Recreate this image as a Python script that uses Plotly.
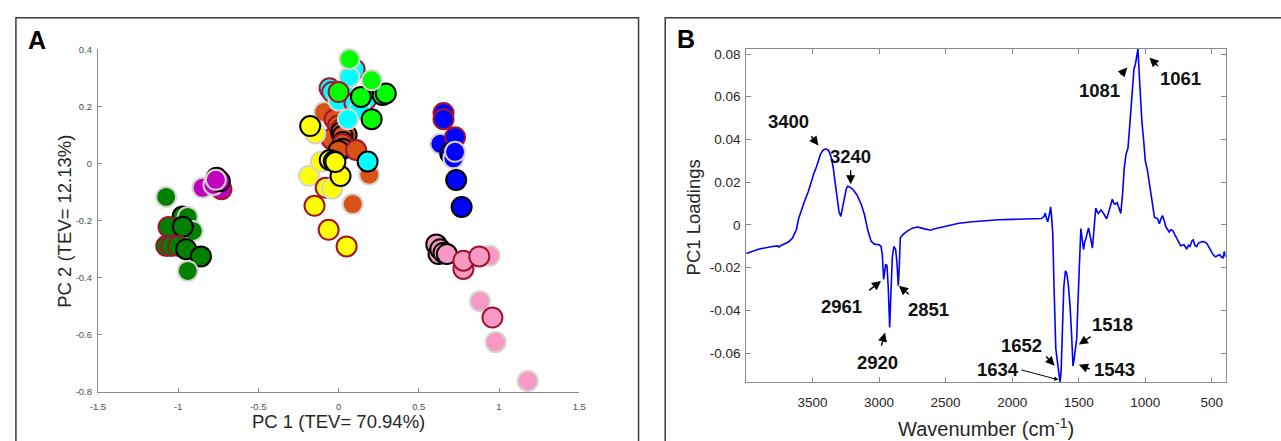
import plotly.graph_objects as go

# ---------------- Panel A data: PCA scores (PC1, PC2) ----------------
# edge codes: k = black, r = crimson, g = light gray
dkgreen_x = [-1.075, -0.972, -0.94, -0.909, -1.06, -0.971, -1.074, -1.043, -1.0, -0.95, -0.858, -0.94]
dkgreen_y = [-0.117, -0.185, -0.187, -0.236, -0.222, -0.221, -0.289, -0.289, -0.289, -0.30, -0.325, -0.376]
dkgreen_e = ['g', 'k', 'g', 'g', 'r', 'k', 'r', 'r', 'r', 'k', 'k', 'g']

magenta_x = [-0.848, -0.73, -0.78, -0.76, -0.74, -0.765]
magenta_y = [-0.085, -0.09, -0.075, -0.05, -0.062, -0.057]
magenta_e = ['g', 'r', 'g', 'k', 'k', 'g']

orange_x = [-0.09, -0.025, -0.004, 0.013, -0.045, 0.016, 0.05, 0.025, 0.027, 0.025, 0.027, 0.0, 0.109, 0.191, 0.088]
orange_y = [0.18, 0.154, 0.132, 0.119, 0.086, 0.109, 0.10, 0.097, 0.075, 0.068, 0.052, 0.045, 0.047, -0.039, -0.142]
orange_e = ['g', 'r', 'r', 'r', 'r', 'k', 'k', 'k', 'k', 'r', 'k', 'k', 'r', 'g', 'g']

yellow_x = [-0.145, -0.177, -0.185, -0.11, -0.15, -0.062, 0.05, -0.08, -0.04, 0.012, -0.055, -0.03, -0.02]
yellow_y = [0.105, 0.131, -0.043, 0.006, -0.148, -0.232, -0.29, -0.085, -0.088, -0.044, 0.012, 0.008, 0.005]
yellow_e = ['g', 'k', 'g', 'g', 'r', 'r', 'r', 'r', 'g', 'k', 'k', 'k', 'k']

cyan_x = [0.10, -0.056, -0.04, 0.0, 0.027, 0.068, 0.099, 0.171, 0.13, 0.058, 0.181]
cyan_y = [0.33, 0.263, 0.25, 0.22, 0.257, 0.303, 0.212, 0.223, 0.19, 0.155, 0.007]
cyan_e = ['r', 'r', 'r', 'g', 'g', 'g', 'r', 'r', 'g', 'g', 'k']

lime_x = [0.0, 0.139, 0.274, 0.294, 0.206, 0.206, 0.068]
lime_y = [0.25, 0.233, 0.24, 0.245, 0.155, 0.291, 0.365]
lime_e = ['r', 'k', 'k', 'k', 'k', 'g', 'g']

blue_x = [0.654, 0.654, 0.634, 0.726, 0.696, 0.716, 0.726, 0.733, 0.767]
blue_y = [0.177, 0.155, 0.069, 0.092, 0.035, 0.018, 0.041, -0.058, -0.152]
blue_e = ['r', 'r', 'g', 'r', 'k', 'g', 'g', 'k', 'k']

pink_x = [0.609, 0.623, 0.634, 0.654, 0.675, 0.778, 0.778, 0.942, 0.877, 0.881, 0.959, 0.979, 1.179]
pink_y = [-0.283, -0.317, -0.30, -0.312, -0.317, -0.369, -0.34, -0.323, -0.325, -0.482, -0.539, -0.625, -0.761]
pink_e = ['k', 'k', 'k', 'k', 'k', 'r', 'r', 'g', 'r', 'g', 'r', 'g', 'g']

# ---------------- Panel B data: PC1 loadings ----------------
wavenumber = [3997, 3900, 3800, 3760, 3752, 3740, 3680, 3650, 3620, 3604, 3560, 3530, 3490, 3468, 3440,
              3420, 3400, 3380, 3360, 3344, 3330, 3315, 3300, 3287, 3275, 3262, 3245, 3235, 3215, 3196,
              3165, 3134, 3110, 3084, 3060, 3035, 3000, 2985, 2975, 2965, 2958, 2950, 2940, 2930, 2920,
              2912, 2900, 2888, 2875, 2865, 2855, 2848, 2840, 2820, 2790, 2750, 2710, 2680, 2640, 2615,
              2580, 2500, 2400, 2300, 2200, 2100, 2000, 1900, 1820, 1780, 1760, 1752, 1742, 1733, 1720,
              1711, 1704, 1695, 1685, 1672, 1660, 1650, 1640, 1632, 1622, 1612, 1600, 1590, 1578, 1565,
              1553, 1543, 1535, 1525, 1515, 1505, 1495, 1484, 1475, 1464, 1455, 1446, 1426, 1410, 1397,
              1385, 1372, 1360, 1352, 1340, 1332, 1310, 1290, 1270, 1255, 1248, 1235, 1228, 1211, 1195,
              1184, 1170, 1159, 1145, 1130, 1115, 1100, 1085, 1075, 1065, 1055, 1045, 1035, 1025, 1010,
              1000, 985, 970, 961, 945, 931, 907, 894, 882, 870, 858, 845, 820, 808, 795,
              771, 750, 734, 709, 689, 676, 664, 650, 640, 628, 615, 600, 573, 555, 540,
              525, 510, 490, 473, 458, 441, 430, 417, 406, 397]
loading = [-0.0134, -0.0113, -0.0101, -0.0098, -0.0104, -0.0097, -0.0080, -0.0062, -0.0020, 0.0029,
           0.0110, 0.0158, 0.0240, 0.0275, 0.0330, 0.0350, 0.0356, 0.0350, 0.0320, 0.0270,
           0.0200, 0.0120, 0.0060, 0.0040, 0.0080, 0.0127, 0.0170, 0.0181, 0.0176, 0.0166,
           0.0140, 0.0097, 0.0050, -0.0025, -0.0075, -0.0090, -0.0093, -0.0100, -0.0140, -0.0255,
           -0.0220, -0.0185, -0.0190, -0.0300, -0.0480, -0.0350, -0.0150, -0.0100, -0.0115, -0.0180,
           -0.0285, -0.0200, -0.0060, -0.0045, -0.0030, -0.0015, -0.0010, -0.0015, -0.0022, -0.0025,
           -0.0018, -0.0005, 0.0008, 0.0015, 0.0021, 0.0024, 0.0026, 0.0027, 0.0029, 0.0030,
           0.0040, 0.0056, 0.0030, 0.0015, 0.0050, 0.0085, 0.0040, -0.0040, -0.0300, -0.0580,
           -0.0640, -0.0680, -0.0737, -0.0680, -0.0450, -0.0290, -0.0215, -0.0225, -0.0280, -0.0380,
           -0.0520, -0.0660, -0.0630, -0.0570, -0.0530, -0.0350, -0.0160, -0.0017, -0.0060, -0.0116,
           -0.0080, -0.0063, -0.0014, -0.0060, -0.0108, -0.0020, 0.0079, 0.0060, 0.0054, 0.0065,
           0.0070, 0.0050, 0.0029, 0.0070, 0.0115, 0.0120, 0.0100, 0.0097, 0.0104, 0.0070,
           0.0054, 0.0150, 0.0260, 0.0330, 0.0360, 0.0480, 0.0630, 0.0730, 0.0750, 0.0790,
           0.0824, 0.0700, 0.0580, 0.0480, 0.0380, 0.0300, 0.0260, 0.0200, 0.0158, 0.0080,
           0.0036, 0.0029, 0.0006, 0.0030, 0.0044, 0.0020, -0.0010, -0.0033, -0.0022, -0.0025,
           -0.0055, -0.0085, -0.0098, -0.0093, -0.0113, -0.0095, -0.0101, -0.0075, -0.0070, -0.0095,
           -0.0101, -0.0085, -0.0078, -0.0080, -0.0085, -0.0100, -0.0116, -0.0140, -0.0149, -0.0145,
           -0.0139, -0.0150, -0.0154, -0.0124, -0.0150]

a_xticks = [-1.5, -1, -0.5, 0, 0.5, 1, 1.5]
a_xticktext = ['-1.5', '-1', '-0.5', '0', '0.5', '1', '1.5']
a_yticks = [0.4, 0.2, 0, -0.2, -0.4, -0.6, -0.8]
a_yticktext = ['0.4', '0.2', '0', '-0.2', '-0.4', '-0.6', '-0.8']
b_xticks = [3500, 3000, 2500, 2000, 1500, 1000, 500]
b_yticks = [0.08, 0.06, 0.04, 0.02, 0, -0.02, -0.04, -0.06]
b_yticktext = ['0.08', '0.06', '0.04', '0.02', '0', '-0.02', '-0.04', '-0.06']

# peak labels: (label, arrow head (wn, val), arrow tail (wn, val), text (wn, val), thin)
peak_labels = [
    ('3400', (3455, 0.0372), (3517, 0.0422), (3680, 0.0486), False),
    ('3240', (3213, 0.0190), (3213, 0.0263), (3213, 0.0322), False),
    ('2961', (2985, -0.0262), (3085, -0.0312), (3280, -0.0380), False),
    ('2851', (2850, -0.0285), (2765, -0.0331), (2631, -0.0398), False),
    ('2920', (2955, -0.0504), (2985, -0.0572), (3010, -0.0646), False),
    ('1518', (1499, -0.0560), (1399, -0.0518), (1243, -0.0467), False),
    ('1652', (1681, -0.0659), (1755, -0.0609), (1926, -0.0563), False),
    ('1634', (1651, -0.0725), (1941, -0.0677), (2104, -0.0677), True),
    ('1543', (1499, -0.0655), (1406, -0.0677), (1228, -0.0677), False),
    ('1081', (1135, 0.0737), (1195, 0.0696), (1347, 0.0628), False),
    ('1061', (968, 0.0783), (894, 0.0737), (734, 0.0687), False),
]

fill_colors = {'dkgreen': '#008000', 'magenta': '#bf00bf', 'orange': '#d95319', 'yellow': '#ffff00',
               'cyan': '#00ffff', 'lime': '#00ff00', 'blue': '#0000ff', 'pink': '#f799c4'}
edge_colors = {'k': '#000000', 'r': '#a2142f', 'g': '#d4d4cc'}

groups = [
    ('dkgreen', dkgreen_x, dkgreen_y, dkgreen_e),
    ('magenta', magenta_x, magenta_y, magenta_e),
    ('orange', orange_x, orange_y, orange_e),
    ('yellow', yellow_x, yellow_y, yellow_e),
    ('cyan', cyan_x, cyan_y, cyan_e),
    ('lime', lime_x, lime_y, lime_e),
    ('blue', blue_x, blue_y, blue_e),
    ('pink', pink_x, pink_y, pink_e),
]

fig = go.Figure()
for name, xs, ys, es in groups:
    fig.add_trace(go.Scatter(
        x=xs, y=ys, mode='markers', name=name, xaxis='x', yaxis='y',
        cliponaxis=False,
        marker=dict(size=20, color=fill_colors[name],
                    line=dict(color=[edge_colors[e] for e in es], width=2)),
        showlegend=False, hoverinfo='skip'))

fig.add_trace(go.Scatter(x=wavenumber, y=loading, mode='lines', xaxis='x2', yaxis='y2',
                         line=dict(color='#0000ff', width=1.6), showlegend=False, hoverinfo='skip'))

tick_font_a = dict(family='Liberation Sans Narrow, Liberation Sans, Arial', size=9.5, color='#505050')
tick_font_b = dict(family='Liberation Sans, Arial', size=13.5, color='#262626')
axis_gray = '#8a8a8a'

fig.update_layout(
    width=1281, height=441, autosize=False,
    margin=dict(l=0, r=0, t=0, b=0),
    paper_bgcolor='white', plot_bgcolor='white',
    xaxis=dict(domain=[91 / 1281, 578 / 1281], range=[-1.5, 1.5], tickvals=a_xticks, ticktext=a_xticktext,
               showgrid=False, zeroline=False, showline=True, linecolor=axis_gray, linewidth=1,
               ticks='inside', ticklen=4, tickcolor=axis_gray, tickfont=tick_font_a, anchor='y',
               ticklabelstandoff=5),
    yaxis=dict(domain=[45 / 441, 396.7 / 441], range=[-0.8, 0.4], tickvals=a_yticks, ticktext=a_yticktext,
               showgrid=False, zeroline=False, showline=True, linecolor=axis_gray, linewidth=1,
               ticks='inside', ticklen=4, tickcolor=axis_gray, tickfont=tick_font_a, anchor='x',
               ticklabelstandoff=3),
    xaxis2=dict(domain=[747 / 1281, 1232 / 1281], range=[max(wavenumber), min(wavenumber)],
                tickvals=b_xticks, showgrid=False, zeroline=False, showline=True, mirror='ticks',
                linecolor=axis_gray, linewidth=1, ticks='inside', ticklen=5, tickcolor=axis_gray,
                tickfont=tick_font_b, anchor='y2', ticklabelstandoff=7),
    yaxis2=dict(domain=[55 / 441, 397 / 441], range=[min(loading), max(loading)],
                tickvals=b_yticks, ticktext=b_yticktext, showgrid=False, zeroline=False, showline=True,
                mirror='ticks', linecolor=axis_gray, linewidth=1, ticks='inside', ticklen=5,
                tickcolor=axis_gray, tickfont=tick_font_b, anchor='x2', ticklabelstandoff=2),
)

title_font = dict(family='Liberation Sans, Arial', size=18.5, color='#262626')
letter_font = dict(family='Liberation Sans, Arial', size=25, color='black')
annotations = [
    dict(text='<b>A</b>', x=29 / 1281, y=1 - 35 / 441, xref='paper', yref='paper', showarrow=False,
         font=letter_font, xanchor='center', yanchor='middle'),
    dict(text='<b>B</b>', x=686 / 1281, y=1 - 34 / 441, xref='paper', yref='paper', showarrow=False,
         font=letter_font, xanchor='center', yanchor='middle'),
    dict(text='PC 1 (TEV= 70.94%)', x=334 / 1281, y=1 - 426 / 441, xref='paper', yref='paper',
         showarrow=False, font=title_font, xanchor='center', yanchor='middle'),
    dict(text='PC 2 (TEV= 12.13%)', x=57 / 1281, y=1 - 221 / 441, xref='paper', yref='paper',
         showarrow=False, font=title_font, textangle=-90, xanchor='center', yanchor='middle'),
    dict(text='PC1 Loadings', x=694 / 1281, y=1 - 217 / 441, xref='paper', yref='paper',
         showarrow=False, font=title_font, textangle=-90, xanchor='center', yanchor='middle'),
    dict(text='Wavenumber (cm<sup>-1</sup>)', x=990 / 1281, y=1 - 432 / 441, xref='paper', yref='paper',
         showarrow=False, font=dict(family='Liberation Sans, Arial', size=20, color='#262626'),
         xanchor='center', yanchor='middle'),
]

for label, head, tail, txt, thin in peak_labels:
    annotations.append(dict(
        x=head[0], y=head[1], ax=tail[0], ay=tail[1], xref='x2', yref='y2', axref='x2', ayref='y2',
        text='', showarrow=True, arrowhead=2, arrowsize=(0.9 if thin else 1.3),
        arrowwidth=(1 if thin else 1.4), arrowcolor='black'))
    annotations.append(dict(
        x=txt[0], y=txt[1], xref='x2', yref='y2', text='<b>' + label + '</b>', showarrow=False,
        font=dict(family='Liberation Sans, Arial', size=18.5, color='#111111'),
        xanchor='center', yanchor='middle'))

fig.update_layout(annotations=annotations)

fig.update_layout(shapes=[
    dict(type='rect', xref='paper', yref='paper', x0=8 / 1281, x1=638 / 1281, y0=-0.1, y1=1 - 12 / 441,
         line=dict(color='#3c3c3c', width=1.5)),
    dict(type='rect', xref='paper', yref='paper', x0=665 / 1281, x1=1.1, y0=-0.1, y1=1 - 12 / 441,
         line=dict(color='#3c3c3c', width=1.5)),
])

fig.write_html('out.html')
